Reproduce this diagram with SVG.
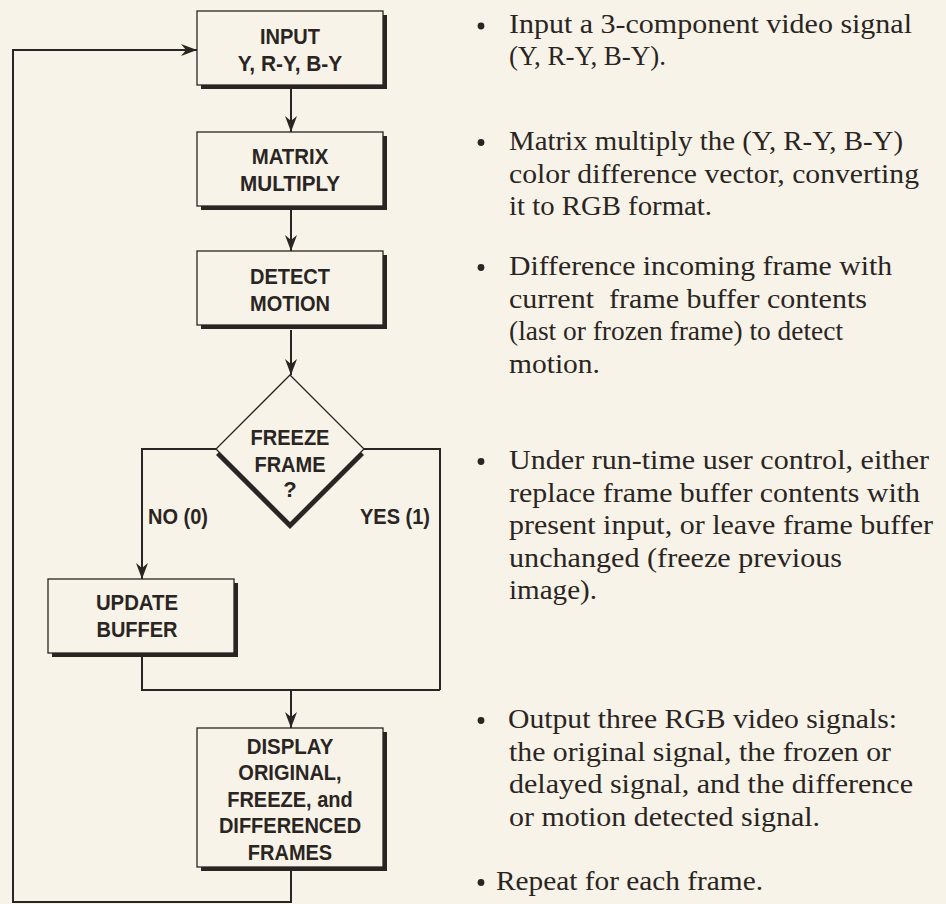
<svg xmlns="http://www.w3.org/2000/svg" width="946" height="904" viewBox="0 0 946 904">
<style>
.bg{fill:#f8f3e8}
.box{fill:#f8f3e8;stroke:#2a2522;stroke-width:1.3}
.shadow{fill:#2a2522}
.lbl{font-family:"Liberation Sans",Arial,sans-serif;font-weight:bold;font-size:22px;fill:#2a2522;text-anchor:middle}
.edge{font-family:"Liberation Sans",Arial,sans-serif;font-weight:bold;font-size:22px;fill:#2a2522}
.wire{fill:none;stroke:#2a2522;stroke-width:2}
.note{font-family:"Liberation Serif","Times New Roman",serif;font-size:26.5px;fill:#2a2522;white-space:pre}
.dot{fill:#2a2522}
</style>
<defs>
<marker id="arr" markerUnits="userSpaceOnUse" viewBox="0 0 16 12" refX="16" refY="6" markerWidth="16" markerHeight="12" orient="auto">
<path d="M0,0 L16,6 L0,12 L5,6 Z" fill="#2a2522"/>
</marker>
</defs>
<rect class="bg" x="0" y="0" width="946" height="904"/>

<g id="connectors">
<path class="wire" d="M291,871 V902 H13 V50 H197" marker-end="url(#arr)"/>
<path class="wire" d="M291,89 V132" marker-end="url(#arr)"/>
<path class="wire" d="M291,210 V251" marker-end="url(#arr)"/>
<path class="wire" d="M291,330 V375" marker-end="url(#arr)"/>
<path class="wire" d="M216,449 H142 V579" marker-end="url(#arr)"/>
<path class="wire" d="M364,449 H440 V690"/>
<path class="wire" d="M142,657 V690 H440"/>
<path class="wire" d="M291,690 V728" marker-end="url(#arr)"/>
<text class="edge" x="148" y="524" textLength="60" lengthAdjust="spacingAndGlyphs">NO (0)</text>
<text class="edge" x="360" y="524" textLength="70" lengthAdjust="spacingAndGlyphs">YES (1)</text>
</g>

<g id="input">
<rect class="shadow" x="201" y="15" width="186" height="74"/>
<rect class="box" x="197" y="11" width="186" height="74"/>
<text class="lbl" x="290" y="43.5" textLength="60" lengthAdjust="spacingAndGlyphs">INPUT</text>
<text class="lbl" x="290" y="70.7" textLength="104.5" lengthAdjust="spacingAndGlyphs">Y, R-Y, B-Y</text>
</g>

<g id="matrix">
<rect class="shadow" x="201" y="136" width="186" height="74"/>
<rect class="box" x="197" y="132" width="186" height="74"/>
<text class="lbl" x="290" y="164" textLength="76.7" lengthAdjust="spacingAndGlyphs">MATRIX</text>
<text class="lbl" x="290" y="190.7" textLength="100" lengthAdjust="spacingAndGlyphs">MULTIPLY</text>
</g>

<g id="detect">
<rect class="shadow" x="201" y="255" width="186" height="74"/>
<rect class="box" x="197" y="251" width="186" height="74"/>
<text class="lbl" x="290" y="284" textLength="80" lengthAdjust="spacingAndGlyphs">DETECT</text>
<text class="lbl" x="290" y="310.7" textLength="80" lengthAdjust="spacingAndGlyphs">MOTION</text>
</g>

<g id="freeze">
<polygon class="shadow" points="290,381 364,455 290,529 216,455"/>
<polygon class="box" points="290,375 364,449 290,523 216,449"/>
<text class="lbl" x="290" y="445" textLength="78.9" lengthAdjust="spacingAndGlyphs">FREEZE</text>
<text class="lbl" x="290" y="472" textLength="71.1" lengthAdjust="spacingAndGlyphs">FRAME</text>
<text class="lbl" x="290" y="497">?</text>
</g>

<g id="update">
<rect class="shadow" x="52" y="583" width="186" height="74"/>
<rect class="box" x="48" y="579" width="186" height="74"/>
<text class="lbl" x="137" y="610" textLength="82.2" lengthAdjust="spacingAndGlyphs">UPDATE</text>
<text class="lbl" x="137" y="637" textLength="81.1" lengthAdjust="spacingAndGlyphs">BUFFER</text>
</g>

<g id="display">
<rect class="shadow" x="201" y="732" width="186" height="139"/>
<rect class="box" x="197" y="728" width="186" height="139"/>
<text class="lbl" x="290" y="754" textLength="86.7" lengthAdjust="spacingAndGlyphs">DISPLAY</text>
<text class="lbl" x="290" y="780" textLength="103.3" lengthAdjust="spacingAndGlyphs">ORIGINAL,</text>
<text class="lbl" x="290" y="807" textLength="125.6" lengthAdjust="spacingAndGlyphs">FREEZE, and</text>
<text class="lbl" x="290" y="833" textLength="142.2" lengthAdjust="spacingAndGlyphs">DIFFERENCED</text>
<text class="lbl" x="290" y="860" textLength="84.4" lengthAdjust="spacingAndGlyphs">FRAMES</text>
</g>

<g id="notes">
<circle class="dot" cx="481" cy="26" r="3.4"/>
<text class="note" x="509" y="33" textLength="403" lengthAdjust="spacingAndGlyphs">Input a 3-component video signal</text>
<text class="note" x="509" y="65" textLength="157" lengthAdjust="spacingAndGlyphs">(Y, R-Y, B-Y).</text>

<circle class="dot" cx="481" cy="142.5" r="3.4"/>
<text class="note" x="509" y="150" textLength="394" lengthAdjust="spacingAndGlyphs">Matrix multiply the (Y, R-Y, B-Y)</text>
<text class="note" x="509" y="183" textLength="410" lengthAdjust="spacingAndGlyphs">color difference vector, converting</text>
<text class="note" x="509" y="215" textLength="203" lengthAdjust="spacingAndGlyphs">it to RGB format.</text>

<circle class="dot" cx="481" cy="267.5" r="3.4"/>
<text class="note" x="509" y="275" textLength="383" lengthAdjust="spacingAndGlyphs">Difference incoming frame with</text>
<text class="note" x="509" y="307.5" textLength="358" lengthAdjust="spacingAndGlyphs">current  frame buffer contents</text>
<text class="note" x="509" y="340" textLength="334" lengthAdjust="spacingAndGlyphs">(last or frozen frame) to detect</text>
<text class="note" x="509" y="372.5" textLength="91" lengthAdjust="spacingAndGlyphs">motion.</text>

<circle class="dot" cx="481" cy="461.5" r="3.4"/>
<text class="note" x="509" y="469" textLength="420" lengthAdjust="spacingAndGlyphs">Under run-time user control, either</text>
<text class="note" x="509" y="502" textLength="411" lengthAdjust="spacingAndGlyphs">replace frame buffer contents with</text>
<text class="note" x="509" y="534" textLength="424" lengthAdjust="spacingAndGlyphs">present input, or leave frame buffer</text>
<text class="note" x="509" y="567" textLength="333" lengthAdjust="spacingAndGlyphs">unchanged (freeze previous</text>
<text class="note" x="509" y="599" textLength="88" lengthAdjust="spacingAndGlyphs">image).</text>

<circle class="dot" cx="481" cy="720.5" r="3.4"/>
<text class="note" x="508" y="728" textLength="389" lengthAdjust="spacingAndGlyphs">Output three RGB video signals:</text>
<text class="note" x="509" y="761" textLength="382" lengthAdjust="spacingAndGlyphs">the original signal, the frozen or</text>
<text class="note" x="509" y="793" textLength="404" lengthAdjust="spacingAndGlyphs">delayed signal, and the difference</text>
<text class="note" x="509" y="826" textLength="311" lengthAdjust="spacingAndGlyphs">or motion detected signal.</text>

<circle class="dot" cx="481" cy="882.5" r="3.4"/>
<text class="note" x="496" y="890" textLength="267" lengthAdjust="spacingAndGlyphs">Repeat for each frame.</text>
</g>
</svg>
